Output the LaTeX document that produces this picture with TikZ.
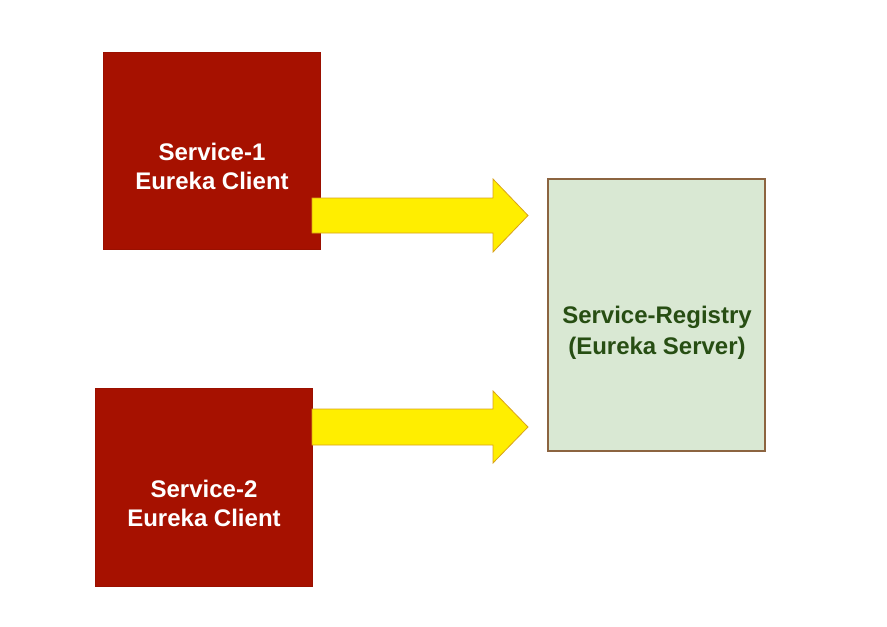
\documentclass[tikz,border=0pt]{standalone}
\usepackage{fontspec}
\setmainfont{Liberation Sans}
\definecolor{svcred}{HTML}{A61100}
\definecolor{svcredline}{HTML}{9A1000}
\definecolor{arrowyellow}{HTML}{FFEE00}
\definecolor{arrowline}{HTML}{D9A21B}
\definecolor{regfill}{HTML}{D9E8D3}
\definecolor{regline}{HTML}{8C6440}
\definecolor{regtext}{HTML}{274E13}
\begin{document}
\begin{tikzpicture}[x=1pt,y=-1pt,
  svcbox/.style={draw=svcredline,fill=svcred,line width=0.8pt,inner sep=0pt},
  svctext/.style={text=white,align=center,font=\bfseries\fontsize{24}{29}\selectfont},
  regbox/.style={draw=regline,fill=regfill,line width=1.5pt,inner sep=0pt},
  regtext/.style={text=regtext,align=center,font=\bfseries\fontsize{24}{31}\selectfont},
  blockarrow/.style={draw=arrowline,fill=arrowyellow,line width=0.8pt,line join=miter}]
\useasboundingbox (0,0) rectangle (887,627);
\fill[white] (0,0) rectangle (887,627);

\node[svcbox,minimum width=217pt,minimum height=197pt] (s1) at (211.5,150.5) {};
\node[svcbox,minimum width=217pt,minimum height=198pt] (s2) at (203.5,487) {};
\node[regbox,minimum width=217pt,minimum height=272pt] (reg) at (656.5,315) {};

\node[svctext] (s1t) at (212,166) {Service-1\\Eureka Client};
\node[svctext] (s2t) at (204,503) {Service-2\\Eureka Client};
\node[regtext] (regt) at (657,333) {Service-Registry\\(Eureka Server)};

\coordinate (a1s) at (312,215.5);
\coordinate (a1e) at (528,215.5);
\coordinate (a2s) at (312,427);
\coordinate (a2e) at (528,427);

\draw[blockarrow] ([yshift=-17.5pt]a1s) -- ([xshift=-35pt,yshift=-17.5pt]a1e)
  -- ([xshift=-35pt,yshift=-36.5pt]a1e) -- (a1e)
  -- ([xshift=-35pt,yshift=36.5pt]a1e) -- ([xshift=-35pt,yshift=17.5pt]a1e)
  -- ([yshift=17.5pt]a1s) -- cycle;
\draw[blockarrow] ([yshift=-18pt]a2s) -- ([xshift=-35pt,yshift=-18pt]a2e)
  -- ([xshift=-35pt,yshift=-36pt]a2e) -- (a2e)
  -- ([xshift=-35pt,yshift=36pt]a2e) -- ([xshift=-35pt,yshift=18pt]a2e)
  -- ([yshift=18pt]a2s) -- cycle;
\end{tikzpicture}
\end{document}
